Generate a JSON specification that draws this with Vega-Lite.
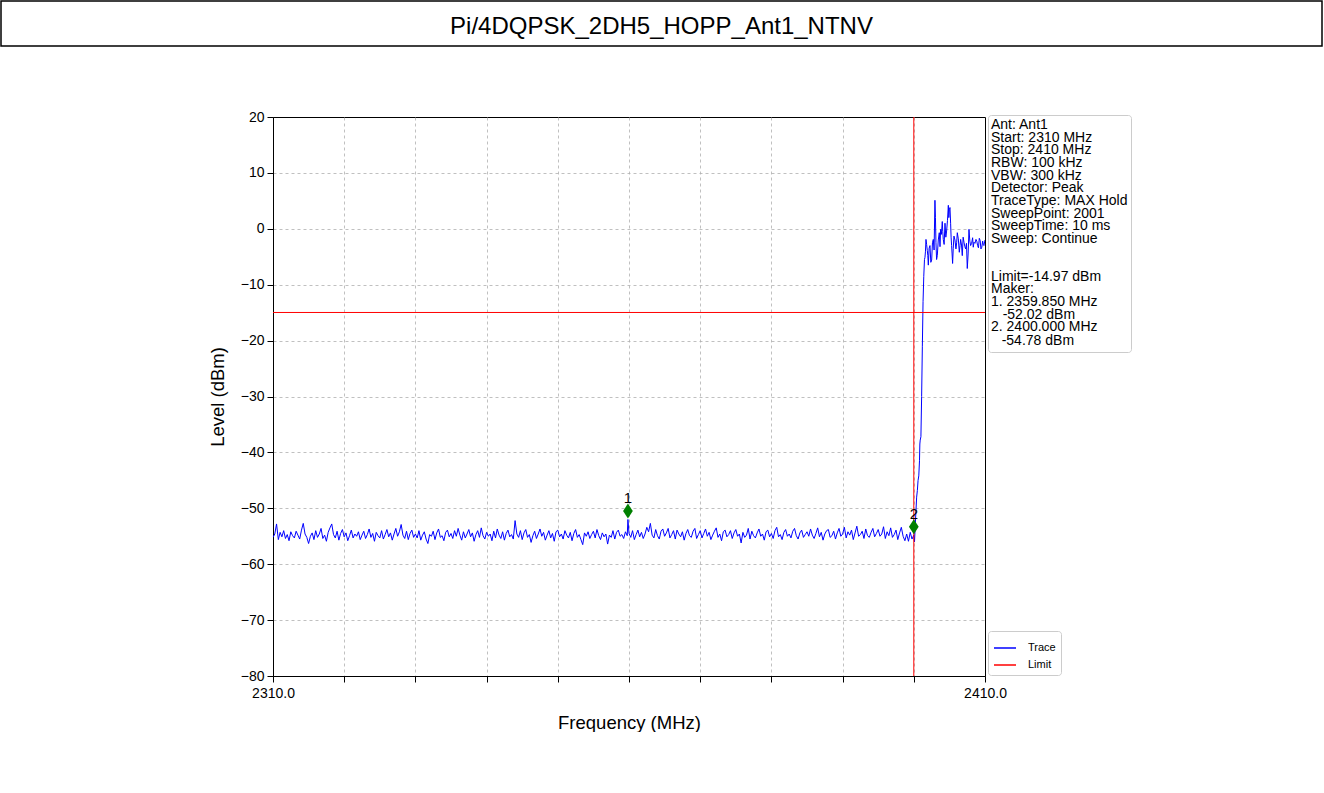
{
  "$schema": "https://vega.github.io/schema/vega-lite/v6.json",
  "background": "white",
  "padding": 0,
  "spacing": 62,
  "config": {
    "font": "Liberation Sans",
    "view": {"stroke": null},
    "concat": {"spacing": 0}
  },
  "datasets": {
    "trace": [
      {"f":2310,"v":-55.2},{"f":2310.25,"v":-54.6},{"f":2310.5,"v":-52.8},{"f":2310.75,"v":-55.6},{"f":2311,"v":-54.3},{"f":2311.25,"v":-55.1},{"f":2311.5,"v":-54.0},{"f":2311.75,"v":-55.4},{"f":2312,"v":-54.7},{"f":2312.25,"v":-55.8},{"f":2312.5,"v":-54.2},{"f":2312.75,"v":-54.9},{"f":2313,"v":-55.3},{"f":2313.25,"v":-54.1},{"f":2313.5,"v":-54.8},{"f":2313.75,"v":-55.5},{"f":2314,"v":-53.9},{"f":2314.25,"v":-52.7},{"f":2314.5,"v":-54.6},{"f":2314.75,"v":-55.2},
      {"f":2315,"v":-56.3},{"f":2315.25,"v":-55.0},{"f":2315.5,"v":-54.4},{"f":2315.75,"v":-55.6},{"f":2316,"v":-54.0},{"f":2316.25,"v":-55.2},{"f":2316.5,"v":-54.6},{"f":2316.75,"v":-53.6},{"f":2317,"v":-55.4},{"f":2317.25,"v":-54.8},{"f":2317.5,"v":-55.9},{"f":2317.75,"v":-54.3},{"f":2318,"v":-53.5},{"f":2318.25,"v":-52.8},{"f":2318.5,"v":-54.7},{"f":2318.75,"v":-55.3},{"f":2319,"v":-54.1},{"f":2319.25,"v":-55.7},{"f":2319.5,"v":-54.5},{"f":2319.75,"v":-53.8},
      {"f":2320,"v":-55.1},{"f":2320.25,"v":-54.4},{"f":2320.5,"v":-55.8},{"f":2320.75,"v":-54.9},{"f":2321,"v":-53.9},{"f":2321.25,"v":-55.3},{"f":2321.5,"v":-54.6},{"f":2321.75,"v":-55.0},{"f":2322,"v":-54.2},{"f":2322.25,"v":-55.6},{"f":2322.5,"v":-54.8},{"f":2322.75,"v":-54.1},{"f":2323,"v":-55.4},{"f":2323.25,"v":-54.7},{"f":2323.5,"v":-53.7},{"f":2323.75,"v":-55.2},{"f":2324,"v":-54.5},{"f":2324.25,"v":-55.9},{"f":2324.5,"v":-54.3},{"f":2324.75,"v":-54.9},
      {"f":2325,"v":-55.3},{"f":2325.25,"v":-54.0},{"f":2325.5,"v":-55.5},{"f":2325.75,"v":-54.7},{"f":2326,"v":-53.8},{"f":2326.25,"v":-55.1},{"f":2326.5,"v":-54.4},{"f":2326.75,"v":-55.7},{"f":2327,"v":-54.6},{"f":2327.25,"v":-53.6},{"f":2327.5,"v":-55.0},{"f":2327.75,"v":-54.2},{"f":2328,"v":-52.9},{"f":2328.25,"v":-54.8},{"f":2328.5,"v":-55.4},{"f":2328.75,"v":-54.1},{"f":2329,"v":-55.6},{"f":2329.25,"v":-54.5},{"f":2329.5,"v":-53.9},{"f":2329.75,"v":-55.2},
      {"f":2330,"v":-54.6},{"f":2330.25,"v":-55.3},{"f":2330.5,"v":-54.0},{"f":2330.75,"v":-55.7},{"f":2331,"v":-54.8},{"f":2331.25,"v":-54.2},{"f":2331.5,"v":-55.5},{"f":2331.75,"v":-56.3},{"f":2332,"v":-54.7},{"f":2332.25,"v":-55.0},{"f":2332.5,"v":-54.1},{"f":2332.75,"v":-55.6},{"f":2333,"v":-54.4},{"f":2333.25,"v":-53.7},{"f":2333.5,"v":-55.2},{"f":2333.75,"v":-54.9},{"f":2334,"v":-55.8},{"f":2334.25,"v":-54.3},{"f":2334.5,"v":-53.9},{"f":2334.75,"v":-55.1},
      {"f":2335,"v":-54.5},{"f":2335.25,"v":-55.4},{"f":2335.5,"v":-54.0},{"f":2335.75,"v":-55.0},{"f":2336,"v":-53.6},{"f":2336.25,"v":-54.8},{"f":2336.5,"v":-55.7},{"f":2336.75,"v":-54.2},{"f":2337,"v":-55.3},{"f":2337.25,"v":-54.6},{"f":2337.5,"v":-53.8},{"f":2337.75,"v":-55.1},{"f":2338,"v":-54.4},{"f":2338.25,"v":-55.9},{"f":2338.5,"v":-54.7},{"f":2338.75,"v":-54.0},{"f":2339,"v":-55.2},{"f":2339.25,"v":-53.5},{"f":2339.5,"v":-54.9},{"f":2339.75,"v":-55.5},
      {"f":2340,"v":-54.3},{"f":2340.25,"v":-55.0},{"f":2340.5,"v":-54.6},{"f":2340.75,"v":-55.8},{"f":2341,"v":-54.1},{"f":2341.25,"v":-55.3},{"f":2341.5,"v":-53.7},{"f":2341.75,"v":-54.8},{"f":2342,"v":-55.4},{"f":2342.25,"v":-54.2},{"f":2342.5,"v":-55.7},{"f":2342.75,"v":-54.5},{"f":2343,"v":-53.9},{"f":2343.25,"v":-55.1},{"f":2343.5,"v":-54.7},{"f":2343.75,"v":-55.5},{"f":2344,"v":-52.2},{"f":2344.25,"v":-54.6},{"f":2344.5,"v":-55.2},{"f":2344.75,"v":-54.0},
      {"f":2345,"v":-55.6},{"f":2345.25,"v":-54.4},{"f":2345.5,"v":-53.8},{"f":2345.75,"v":-55.2},{"f":2346,"v":-54.7},{"f":2346.25,"v":-56.1},{"f":2346.5,"v":-54.9},{"f":2346.75,"v":-54.1},{"f":2347,"v":-55.4},{"f":2347.25,"v":-54.6},{"f":2347.5,"v":-53.7},{"f":2347.75,"v":-55.0},{"f":2348,"v":-54.3},{"f":2348.25,"v":-55.7},{"f":2348.5,"v":-54.8},{"f":2348.75,"v":-54.0},{"f":2349,"v":-55.3},{"f":2349.25,"v":-54.5},{"f":2349.5,"v":-55.9},{"f":2349.75,"v":-54.2},
      {"f":2350,"v":-53.9},{"f":2350.25,"v":-55.1},{"f":2350.5,"v":-54.6},{"f":2350.75,"v":-55.5},{"f":2351,"v":-54.0},{"f":2351.25,"v":-54.8},{"f":2351.5,"v":-55.3},{"f":2351.75,"v":-54.3},{"f":2352,"v":-55.8},{"f":2352.25,"v":-54.5},{"f":2352.5,"v":-53.8},{"f":2352.75,"v":-55.2},{"f":2353,"v":-54.7},{"f":2353.25,"v":-55.6},{"f":2353.5,"v":-56.5},{"f":2353.75,"v":-54.4},{"f":2354,"v":-55.0},{"f":2354.25,"v":-54.2},{"f":2354.5,"v":-55.4},{"f":2354.75,"v":-54.7},
      {"f":2355,"v":-54.1},{"f":2355.25,"v":-55.3},{"f":2355.5,"v":-53.8},{"f":2355.75,"v":-54.9},{"f":2356,"v":-55.6},{"f":2356.25,"v":-54.4},{"f":2356.5,"v":-55.1},{"f":2356.75,"v":-54.6},{"f":2357,"v":-56.4},{"f":2357.25,"v":-54.8},{"f":2357.5,"v":-55.2},{"f":2357.75,"v":-54.0},{"f":2358,"v":-55.5},{"f":2358.25,"v":-54.3},{"f":2358.5,"v":-53.9},{"f":2358.75,"v":-55.0},{"f":2359,"v":-54.7},{"f":2359.25,"v":-55.4},{"f":2359.5,"v":-54.2},{"f":2359.75,"v":-54.9},{"f":2359.85,"v":-52.0},
      {"f":2360,"v":-54.5},{"f":2360.25,"v":-55.2},{"f":2360.5,"v":-54.0},{"f":2360.75,"v":-55.6},{"f":2361,"v":-54.7},{"f":2361.25,"v":-53.9},{"f":2361.5,"v":-55.1},{"f":2361.75,"v":-54.3},{"f":2362,"v":-55.4},{"f":2362.25,"v":-54.6},{"f":2362.5,"v":-53.4},{"f":2362.75,"v":-54.2},{"f":2363,"v":-52.7},{"f":2363.25,"v":-54.8},{"f":2363.5,"v":-55.3},{"f":2363.75,"v":-53.8},{"f":2364,"v":-54.9},{"f":2364.25,"v":-55.5},{"f":2364.5,"v":-54.1},{"f":2364.75,"v":-53.7},
      {"f":2365,"v":-55.0},{"f":2365.25,"v":-54.4},{"f":2365.5,"v":-53.6},{"f":2365.75,"v":-55.3},{"f":2366,"v":-54.7},{"f":2366.25,"v":-54.0},{"f":2366.5,"v":-55.5},{"f":2366.75,"v":-53.9},{"f":2367,"v":-54.6},{"f":2367.25,"v":-55.1},{"f":2367.5,"v":-54.2},{"f":2367.75,"v":-55.7},{"f":2368,"v":-54.5},{"f":2368.25,"v":-53.8},{"f":2368.5,"v":-54.9},{"f":2368.75,"v":-55.2},{"f":2369,"v":-54.1},{"f":2369.25,"v":-53.6},{"f":2369.5,"v":-55.4},{"f":2369.75,"v":-54.7},
      {"f":2370,"v":-54.0},{"f":2370.25,"v":-55.3},{"f":2370.5,"v":-54.5},{"f":2370.75,"v":-53.7},{"f":2371,"v":-55.0},{"f":2371.25,"v":-54.3},{"f":2371.5,"v":-55.6},{"f":2371.75,"v":-54.8},{"f":2372,"v":-54.1},{"f":2372.25,"v":-53.5},{"f":2372.5,"v":-55.2},{"f":2372.75,"v":-54.6},{"f":2373,"v":-55.8},{"f":2373.25,"v":-54.2},{"f":2373.5,"v":-53.9},{"f":2373.75,"v":-55.1},{"f":2374,"v":-54.7},{"f":2374.25,"v":-54.0},{"f":2374.5,"v":-55.4},{"f":2374.75,"v":-54.4},
      {"f":2375,"v":-53.8},{"f":2375.25,"v":-55.0},{"f":2375.5,"v":-54.6},{"f":2375.75,"v":-56.2},{"f":2376,"v":-54.3},{"f":2376.25,"v":-55.2},{"f":2376.5,"v":-54.8},{"f":2376.75,"v":-53.6},{"f":2377,"v":-55.5},{"f":2377.25,"v":-54.1},{"f":2377.5,"v":-54.9},{"f":2377.75,"v":-55.3},{"f":2378,"v":-54.4},{"f":2378.25,"v":-53.7},{"f":2378.5,"v":-55.0},{"f":2378.75,"v":-54.6},{"f":2379,"v":-55.7},{"f":2379.25,"v":-54.2},{"f":2379.5,"v":-53.9},{"f":2379.75,"v":-55.1},
      {"f":2380,"v":-54.5},{"f":2380.25,"v":-55.4},{"f":2380.5,"v":-54.0},{"f":2380.75,"v":-53.4},{"f":2381,"v":-55.1},{"f":2381.25,"v":-54.7},{"f":2381.5,"v":-55.6},{"f":2381.75,"v":-54.3},{"f":2382,"v":-53.8},{"f":2382.25,"v":-55.0},{"f":2382.5,"v":-54.6},{"f":2382.75,"v":-55.3},{"f":2383,"v":-54.1},{"f":2383.25,"v":-53.6},{"f":2383.5,"v":-54.9},{"f":2383.75,"v":-55.5},{"f":2384,"v":-54.4},{"f":2384.25,"v":-53.9},{"f":2384.5,"v":-55.2},{"f":2384.75,"v":-54.7},
      {"f":2385,"v":-54.2},{"f":2385.25,"v":-55.0},{"f":2385.5,"v":-53.7},{"f":2385.75,"v":-54.8},{"f":2386,"v":-55.4},{"f":2386.25,"v":-54.5},{"f":2386.5,"v":-53.5},{"f":2386.75,"v":-55.1},{"f":2387,"v":-54.3},{"f":2387.25,"v":-55.7},{"f":2387.5,"v":-54.6},{"f":2387.75,"v":-54.0},{"f":2388,"v":-53.8},{"f":2388.25,"v":-55.2},{"f":2388.5,"v":-54.9},{"f":2388.75,"v":-54.1},{"f":2389,"v":-55.5},{"f":2389.25,"v":-54.4},{"f":2389.5,"v":-53.6},{"f":2389.75,"v":-55.0},
      {"f":2390,"v":-54.6},{"f":2390.25,"v":-53.4},{"f":2390.5,"v":-55.3},{"f":2390.75,"v":-54.2},{"f":2391,"v":-54.8},{"f":2391.25,"v":-53.9},{"f":2391.5,"v":-55.6},{"f":2391.75,"v":-54.4},{"f":2392,"v":-53.2},{"f":2392.25,"v":-55.0},{"f":2392.5,"v":-54.7},{"f":2392.75,"v":-54.1},{"f":2393,"v":-55.4},{"f":2393.25,"v":-53.7},{"f":2393.5,"v":-54.9},{"f":2393.75,"v":-55.2},{"f":2394,"v":-54.3},{"f":2394.25,"v":-53.6},{"f":2394.5,"v":-55.1},{"f":2394.75,"v":-54.5},
      {"f":2395,"v":-53.8},{"f":2395.25,"v":-55.0},{"f":2395.5,"v":-54.6},{"f":2395.75,"v":-53.3},{"f":2396,"v":-55.4},{"f":2396.25,"v":-54.2},{"f":2396.5,"v":-54.9},{"f":2396.75,"v":-53.5},{"f":2397,"v":-55.2},{"f":2397.25,"v":-54.7},{"f":2397.5,"v":-53.9},{"f":2397.75,"v":-55.6},{"f":2398,"v":-54.4},{"f":2398.25,"v":-53.4},{"f":2398.5,"v":-55.0},{"f":2398.75,"v":-55.8},{"f":2399,"v":-54.6},{"f":2399.25,"v":-55.9},{"f":2399.5,"v":-54.3},{"f":2399.75,"v":-55.5},
      {"f":2400,"v":-54.8},{"f":2400.1,"v":-56.0},{"f":2400.2,"v":-53.2},{"f":2400.3,"v":-50.5},{"f":2400.4,"v":-48.0},{"f":2400.5,"v":-46.8},{"f":2400.6,"v":-45.0},{"f":2400.7,"v":-44.2},{"f":2400.8,"v":-41.5},{"f":2400.85,"v":-38.5},{"f":2400.9,"v":-37.8},{"f":2401,"v":-37.2},{"f":2401.1,"v":-30.0},{"f":2401.2,"v":-21.0},{"f":2401.3,"v":-13.0},{"f":2401.4,"v":-8.5},{"f":2401.5,"v":-5.5},
      {"f":2401.57,"v":-5.1},{"f":2401.64,"v":-4.0},{"f":2401.71,"v":-1.9},{"f":2401.8,"v":-2.8},{"f":2401.9,"v":-3.9},{"f":2401.97,"v":-4.8},{"f":2402.04,"v":-6.5},{"f":2402.15,"v":-3.5},{"f":2402.27,"v":-3.0},{"f":2402.39,"v":-6.0},{"f":2402.51,"v":-5.6},{"f":2402.62,"v":-2.5},{"f":2402.74,"v":-1.9},{"f":2402.85,"v":-3.8},{"f":2402.97,"v":5.1},{"f":2403.04,"v":2.0},{"f":2403.11,"v":-2.4},{"f":2403.2,"v":-5.5},{"f":2403.3,"v":-4.8},{"f":2403.44,"v":-2.0},{"f":2403.58,"v":-0.7},{"f":2403.68,"v":-3.2},{"f":2403.77,"v":-0.1},{"f":2403.88,"v":-1.0},{"f":2404,"v":1.3},{"f":2404.07,"v":-0.5},{"f":2404.14,"v":-1.9},{"f":2404.26,"v":-2.8},{"f":2404.38,"v":1.0},{"f":2404.5,"v":-1.5},{"f":2404.61,"v":-0.4},{"f":2404.73,"v":1.5},{"f":2404.85,"v":4.2},{"f":2404.92,"v":2.0},{"f":2404.99,"v":3.4},{"f":2405.08,"v":3.8},{"f":2405.17,"v":1.0},{"f":2405.24,"v":-1.5},{"f":2405.31,"v":-3.0},{"f":2405.38,"v":-4.5},{"f":2405.45,"v":-6.2},{"f":2405.54,"v":-3.5},{"f":2405.64,"v":-1.3},{"f":2405.78,"v":-2.0},{"f":2405.92,"v":-3.6},{"f":2406.02,"v":-2.5},{"f":2406.11,"v":-0.7},{"f":2406.25,"v":-1.8},{"f":2406.39,"v":-4.2},{"f":2406.49,"v":-3.0},{"f":2406.58,"v":-1.9},{"f":2406.7,"v":-2.9},{"f":2406.81,"v":-4.8},{"f":2406.93,"v":-1.5},{"f":2407.05,"v":-2.4},{"f":2407.17,"v":-3.2},{"f":2407.28,"v":-3.6},{"f":2407.4,"v":-2.6},{"f":2407.51,"v":-7.1},{"f":2407.63,"v":-4.5},{"f":2407.75,"v":-0.1},{"f":2407.87,"v":-2.2},{"f":2407.98,"v":-3.0},{"f":2408.12,"v":-2.6},{"f":2408.26,"v":-1.6},{"f":2408.35,"v":-3.3},{"f":2408.45,"v":-2.4},{"f":2408.59,"v":-2.6},{"f":2408.73,"v":-1.9},{"f":2408.85,"v":-2.2},{"f":2408.96,"v":-3.0},{"f":2409.08,"v":-3.4},{"f":2409.2,"v":-1.7},{"f":2409.32,"v":-2.1},{"f":2409.43,"v":-3.6},{"f":2409.55,"v":-3.3},{"f":2409.67,"v":-2.2},{"f":2409.76,"v":-2.8},{"f":2409.85,"v":-3.0},{"f":2410,"v":-2.0}
    ],
    "markers": [
      {"f":2359.85,"v":-50.5,"id":"1"},
      {"f":2400.0,"v":-53.3,"id":"2"}
    ],
    "info": [
      {"line":"\u200b\u00a0\u00a0\u00a0-54.78 dBm"}
    ]
  },
  "vconcat": [
    {
      "width": 1321,
      "height": 45,
      "view": {"stroke": "black", "strokeWidth": 1.5},
      "data": {"values": [{"label": "Pi/4DQPSK_2DH5_HOPP_Ant1_NTNV"}]},
      "mark": {"type": "text", "fontSize": 24, "font": "Liberation Sans", "color": "black", "dy": 3},
      "encoding": {"text": {"field": "label", "type": "nominal"}}
    },
    {
      "spacing": 0,
      "hconcat": [
        {
          "width": 206,
          "height": 10,
          "data": {"values": []},
          "mark": "point"
        },
        {
          "width": 712,
          "height": 559,
          "view": {"stroke": "black", "strokeWidth": 1},
          "layer": [
            {
              "data": {"name": "trace"},
              "mark": {"type": "line", "strokeWidth": 1, "clip": true},
              "encoding": {
                "x": {
                  "field": "f", "type": "quantitative", "title": "Frequency (MHz)",
                  "scale": {"domain": [2310, 2410], "nice": false, "zero": false},
                  "axis": {
                    "values": [2310, 2320, 2330, 2340, 2350, 2360, 2370, 2380, 2390, 2400, 2410],
                    "labelExpr": "datum.value == 2310 || datum.value == 2410 ? format(datum.value, '.1f') : ''",
                    "grid": true, "gridDash": [3, 3], "gridColor": "#b0b0b0", "gridWidth": 0.8,
                    "gridOpacity": {"condition": {"test": "datum.value == 2410 || datum.value == 2310", "value": 0}, "value": 1},
                    "domainColor": "black", "tickColor": "black", "tickSize": 6, "tickWidth": 1,
                    "labelFontSize": 14, "labelColor": "black", "labelPadding": 4, "labelFlush": false, "labelOverlap": false,
                    "titleFontSize": 18.5, "titleFontWeight": "normal", "titleColor": "black", "titlePadding": 13
                  }
                },
                "y": {
                  "field": "v", "type": "quantitative", "title": "Level (dBm)",
                  "scale": {"domain": [-80, 20], "nice": false, "zero": false},
                  "axis": {
                    "values": [-80, -70, -60, -50, -40, -30, -20, -10, 0, 10, 20],
                    "format": "d",
                    "grid": true, "gridDash": [3, 3], "gridColor": "#b0b0b0", "gridWidth": 0.8,
                    "gridOpacity": {"condition": {"test": "datum.value == 20 || datum.value == -80", "value": 0}, "value": 1},
                    "domainColor": "black", "tickColor": "black", "tickSize": 6, "tickWidth": 1,
                    "labelFontSize": 14, "labelColor": "black", "labelPadding": 3, "labelFlush": false, "labelOverlap": false,
                    "titleFontSize": 18.5, "titleFontWeight": "normal", "titleColor": "black", "titlePadding": 13
                  }
                },
                "color": {
                  "datum": "Trace", "type": "nominal",
                  "scale": {"domain": ["Trace", "Limit"], "range": ["#0000ff", "#ff0000"]},
                  "legend": {
                    "title": null, "orient": "none", "legendX": 987, "legendY": 630,
                    "symbolType": "stroke", "symbolSize": 484, "symbolStrokeWidth": 1.5,
                    "labelFontSize": 11, "labelColor": "black", "labelOffset": 11, "rowPadding": 0,
                    "padding": 5, "strokeColor": "#cccccc", "fillColor": "white", "cornerRadius": 3
                  }
                }
              }
            },
            {
              "data": {"values": [{"limit": -14.97}]},
              "mark": {"type": "rule", "strokeWidth": 1},
              "encoding": {
                "y": {"field": "limit", "type": "quantitative"},
                "color": {"datum": "Limit", "type": "nominal"}
              }
            },
            {
              "data": {"values": [{"f": 2400}]},
              "mark": {"type": "rule", "strokeWidth": 1, "color": "#ff0000"},
              "encoding": {
                "x": {"field": "f", "type": "quantitative"}
              }
            },
            {
              "data": {"name": "markers"},
              "mark": {"type": "point", "shape": "M-0.65,0L0,-1L0.65,0L0,1Z", "filled": true, "color": "#008000", "size": 225, "opacity": 1},
              "encoding": {
                "x": {"field": "f", "type": "quantitative"},
                "y": {"field": "v", "type": "quantitative"}
              }
            },
            {
              "data": {"name": "markers"},
              "mark": {"type": "text", "fontSize": 15, "color": "black", "baseline": "bottom", "dy": -5},
              "encoding": {
                "x": {"field": "f", "type": "quantitative"},
                "y": {"field": "v", "type": "quantitative"},
                "text": {"field": "id", "type": "nominal"}
              }
            },
            {
              "data": {"name": "info"},
              "mark": {"type": "point", "opacity": 0},
              "encoding": {
                "shape": {
                  "field": "line", "type": "nominal",
                  "legend": {
                    "title": ["Ant: Ant1", "Start: 2310 MHz", "Stop: 2410 MHz", "RBW: 100 kHz", "VBW: 300 kHz", "Detector: Peak", "TraceType: MAX Hold", "SweepPoint: 2001", "SweepTime: 10 ms", "Sweep: Continue", "\u200b", "\u200b", "Limit=-14.97 dBm", "Maker:", "1. 2359.850 MHz", "\u200b\u00a0\u00a0\u00a0-52.02 dBm", "2. 2400.000 MHz"],
                    "titleFontSize": 14, "titleFontWeight": "normal", "titleColor": "black", "titleLineHeight": 12.65, "titleLimit": 400, "titlePadding": 0, "titleFont": "Liberation Sans",
                    "orient": "none", "legendX": 987, "legendY": 114,
                    "symbolSize": 0, "symbolOpacity": 0, "symbolStrokeWidth": 0,
                    "labelFontSize": 14, "labelColor": "black", "labelLimit": 400, "labelOffset": -15,
                    "padding": 3, "strokeColor": "#cccccc", "fillColor": "white", "cornerRadius": 3
                  }
                }
              }
            }
          ]
        }
      ]
    }
  ]
}
